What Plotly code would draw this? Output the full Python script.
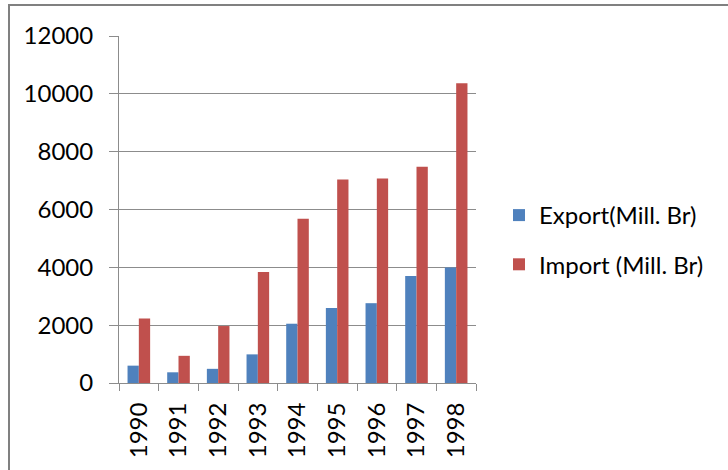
import plotly.graph_objects as go

# Ethiopian foreign trade, 1990-1998 (millions of Birr)
years = ["1990", "1991", "1992", "1993", "1994", "1995", "1996", "1997", "1998"]
exports_mbr = [600, 370, 490, 990, 2050, 2590, 2760, 3700, 3990]
imports_mbr = [2230, 940, 1970, 3840, 5680, 7040, 7070, 7480, 10370]
y_ticks = [0, 2000, 4000, 6000, 8000, 10000, 12000]

W, H = 728, 470
L, R, T, B = 119, 252, 36, 87
PW, PH = W - L - R, H - T - B

def px_x(p):
    return (p - L) / PW

def px_y(p):
    return (H - B - p) / PH

GRID = "#8c8c8c"
FONT = "Lato"
FS = 24

fig = go.Figure()
fig.add_trace(go.Bar(x=years, y=exports_mbr, name="Export(Mill. Br)",
                     marker=dict(color="#4F81BD", line=dict(width=0)),
                     legendgroup="exp"))
fig.add_trace(go.Bar(x=years, y=imports_mbr, name="Import (Mill. Br)",
                     marker=dict(color="#C0504D", line=dict(width=0)),
                     legendgroup="imp"))

fig.update_layout(
    width=W, height=H,
    margin=dict(l=L, r=R, t=T, b=B, pad=0),
    paper_bgcolor="white", plot_bgcolor="white",
    barmode="group", bargap=0.43, bargroupgap=0,
    font=dict(family=FONT, size=FS, color="#000000"),
    showlegend=True,
    legend=dict(x=px_x(499), y=px_y(240), xanchor="left", yanchor="middle",
                traceorder="grouped", tracegroupgap=15,
                font=dict(family=FONT, size=FS, color="#000000"),
                bgcolor="rgba(0,0,0,0)", itemwidth=30),
    xaxis=dict(type="category", tickson="boundaries", ticks="outside",
               ticklen=7, tickcolor=GRID, tickwidth=1,
               showline=True, linecolor=GRID, linewidth=1,
               showgrid=False, tickangle=-90, ticklabelstandoff=9,
               tickfont=dict(family=FONT, size=FS, color="#000000")),
    yaxis=dict(range=[0, 12000], tickvals=y_ticks,
               ticktext=[str(v) for v in y_ticks], ticks="outside",
               ticklen=9, tickcolor=GRID, tickwidth=1,
               showline=True, linecolor=GRID, linewidth=1,
               showgrid=True, gridcolor=GRID, gridwidth=1,
               zeroline=False, ticklabelstandoff=11,
               tickfont=dict(family=FONT, size=FS, color="#000000")),
)

# Frame around the chart area of the page
fig.add_shape(type="line", xref="paper", yref="paper",
              x0=px_x(8), x1=px_x(W + 2), y0=px_y(5), y1=px_y(5),
              line=dict(color="#808080", width=2))
fig.add_shape(type="line", xref="paper", yref="paper",
              x0=px_x(9), x1=px_x(9), y0=px_y(5), y1=px_y(H + 2),
              line=dict(color="#808080", width=2))

# Heading above the frame (runs off the top of the page)
fig.add_annotation(text="<b>Export</b>", xref="paper", yref="paper",
                   x=px_x(104), y=px_y(1), xanchor="left", yanchor="bottom",
                   showarrow=False,
                   font=dict(family="Liberation Serif", size=20, color="#000000"))

fig.write_html("out.html")
